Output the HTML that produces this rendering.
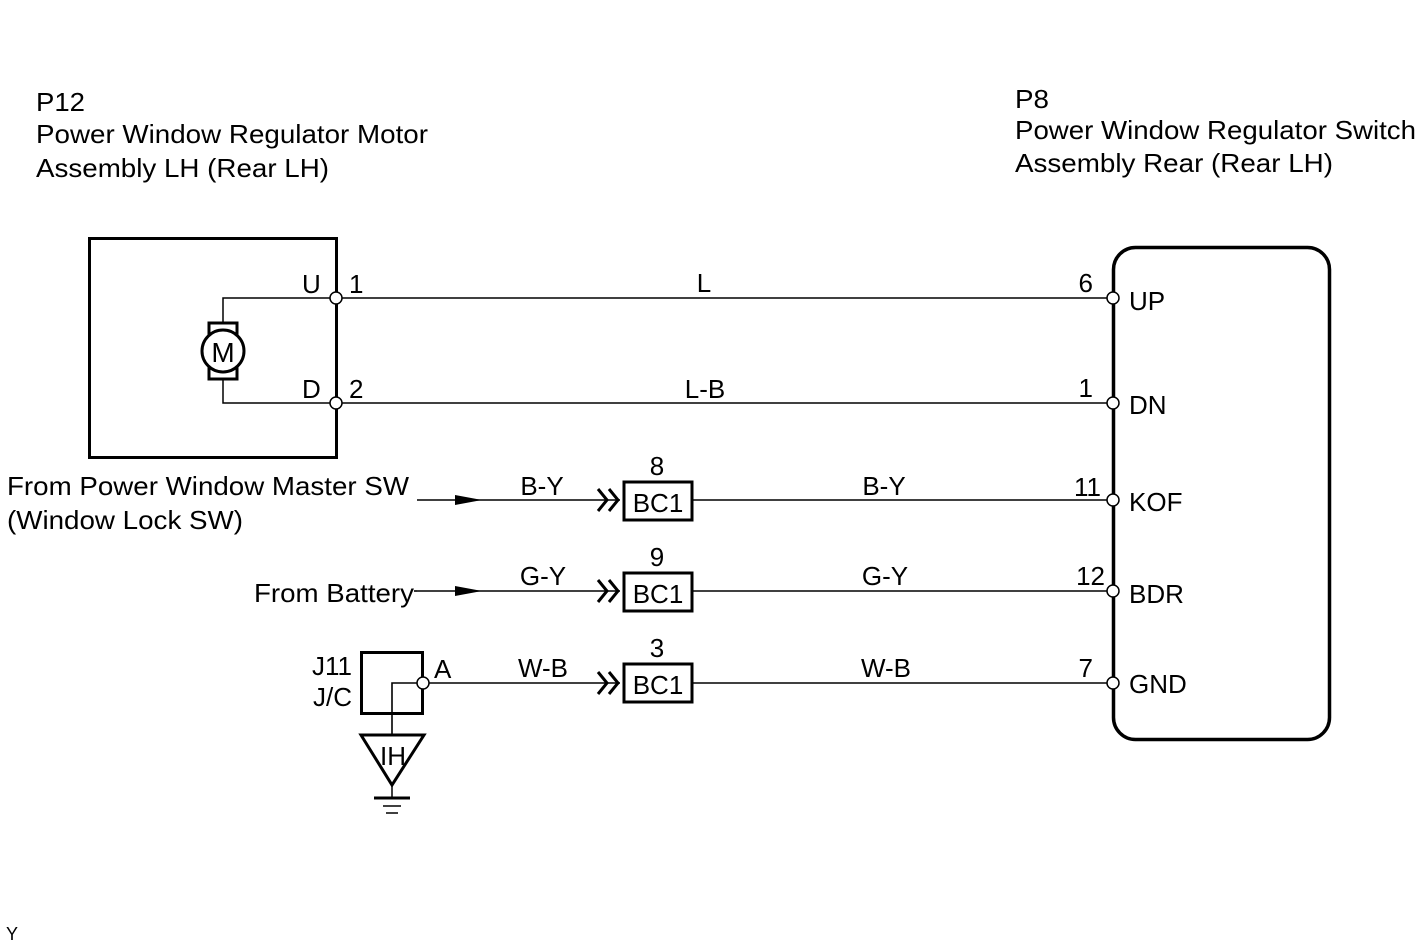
<!DOCTYPE html>
<html><head><meta charset="utf-8"><style>
html,body{margin:0;padding:0;background:#fff}
svg{display:block}
text{font-family:"Liberation Sans",Arial,sans-serif;fill:#000}
</style></head><body>
<svg width="1426" height="946" viewBox="0 0 1426 946" xmlns="http://www.w3.org/2000/svg">
<g font-size="26" lengthAdjust="spacingAndGlyphs">
<text x="36" y="111" textLength="49" lengthAdjust="spacingAndGlyphs">P12</text>
<text x="36" y="143" textLength="392" lengthAdjust="spacingAndGlyphs">Power Window Regulator Motor</text>
<text x="36" y="177" textLength="293" lengthAdjust="spacingAndGlyphs">Assembly LH (Rear LH)</text>
<text x="1015" y="108" textLength="34" lengthAdjust="spacingAndGlyphs">P8</text>
<text x="1015" y="139" textLength="401" lengthAdjust="spacingAndGlyphs">Power Window Regulator Switch</text>
<text x="1015" y="172" textLength="318" lengthAdjust="spacingAndGlyphs">Assembly Rear (Rear LH)</text>
</g>
<rect x="89.5" y="238.5" width="247" height="219" fill="none" stroke="#000" stroke-width="3"/>
<path d="M223 322 V298 H336 M223 380 V403 H336" fill="none" stroke="#000" stroke-width="1.5"/>
<rect x="209" y="323" width="28" height="56" fill="none" stroke="#000" stroke-width="3"/>
<circle cx="223" cy="351" r="21" fill="#fff" stroke="#000" stroke-width="3"/>
<text x="223" y="362" font-size="28" text-anchor="middle">M</text>
<rect x="1113.5" y="247.5" width="216" height="492" rx="22" fill="none" stroke="#000" stroke-width="3.5"/>
<g stroke="#000" stroke-width="1.6" fill="none">
<line x1="336" y1="298" x2="1113" y2="298"/>
<line x1="336" y1="403" x2="1113" y2="403"/>
<line x1="417" y1="500" x2="620" y2="500"/>
<line x1="692" y1="500" x2="1113" y2="500"/>
<line x1="417" y1="591" x2="620" y2="591"/>
<line x1="692" y1="591" x2="1113" y2="591"/>
<line x1="423" y1="683" x2="620" y2="683"/>
<line x1="692" y1="683" x2="1113" y2="683"/>
<path d="M423 683 H392 V735"/>
</g>
<polygon points="455,495 482,500 455,505" fill="#000"/>
<polygon points="455,586 482,591 455,596" fill="#000"/>
<g stroke="#000" stroke-width="3" fill="none">
<path d="M598 489 L607 500 L598 511 M609 489 L618 500 L609 511"/>
<path d="M598 580 L607 591 L598 602 M609 580 L618 591 L609 602"/>
<path d="M598 672 L607 683 L598 694 M609 672 L618 683 L609 694"/>
<rect x="624" y="482" width="68" height="38"/>
<rect x="624" y="573" width="68" height="38"/>
<rect x="624" y="664" width="68" height="38"/>
<rect x="361.5" y="652.5" width="61" height="61"/>
<polygon points="361,735 424,735 392,785"/>
</g>
<g stroke="#000" fill="none">
<line x1="392" y1="785" x2="392" y2="798" stroke-width="1.5"/>
<line x1="374" y1="798" x2="410" y2="798" stroke-width="3"/>
<line x1="383" y1="806" x2="401" y2="806" stroke-width="1.5"/>
<line x1="386" y1="813" x2="398" y2="813" stroke-width="1.5"/>
</g>
<g fill="#fff" stroke="#000" stroke-width="1.5">
<circle cx="336" cy="298" r="6"/><circle cx="336" cy="403" r="6"/>
<circle cx="1113" cy="298" r="6"/><circle cx="1113" cy="403" r="6"/>
<circle cx="1113" cy="500" r="6"/><circle cx="1113" cy="591" r="6"/>
<circle cx="1113" cy="683" r="6"/><circle cx="423" cy="683" r="6"/>
</g>
<g font-size="26">
<text x="302" y="293">U</text><text x="349" y="293">1</text>
<text x="302" y="398">D</text><text x="349" y="398">2</text>
<text x="704" y="292" text-anchor="middle">L</text>
<text x="705" y="398" text-anchor="middle">L-B</text>
<text x="1093" y="292" text-anchor="end">6</text>
<text x="1093" y="397" text-anchor="end">1</text>
<text x="1101" y="496" text-anchor="end">11</text>
<text x="1105" y="585" text-anchor="end">12</text>
<text x="1093" y="677" text-anchor="end">7</text>
<text x="1129" y="310">UP</text>
<text x="1129" y="414">DN</text>
<text x="1129" y="511">KOF</text>
<text x="1129" y="603">BDR</text>
<text x="1129" y="693">GND</text>
<text x="7" y="495" textLength="402" lengthAdjust="spacingAndGlyphs">From Power Window Master SW</text>
<text x="7" y="529" textLength="236" lengthAdjust="spacingAndGlyphs">(Window Lock SW)</text>
<text x="254" y="602" textLength="160" lengthAdjust="spacingAndGlyphs">From Battery</text>
<text x="542" y="495" text-anchor="middle">B-Y</text>
<text x="543" y="585" text-anchor="middle">G-Y</text>
<text x="543" y="677" text-anchor="middle">W-B</text>
<text x="884" y="495" text-anchor="middle">B-Y</text>
<text x="885" y="585" text-anchor="middle">G-Y</text>
<text x="886" y="677" text-anchor="middle">W-B</text>
<text x="657" y="475" text-anchor="middle">8</text>
<text x="657" y="566" text-anchor="middle">9</text>
<text x="657" y="657" text-anchor="middle">3</text>
<text x="658" y="512" text-anchor="middle">BC1</text>
<text x="658" y="603" text-anchor="middle">BC1</text>
<text x="658" y="694" text-anchor="middle">BC1</text>
<text x="434" y="678">A</text>
<text x="352" y="675" text-anchor="end">J11</text>
<text x="352" y="706" text-anchor="end">J/C</text>
<text x="393" y="765" text-anchor="middle">IH</text>
</g>
<path d="M414 591 H417" stroke="#000" stroke-width="1.6"/>
<text x="6" y="940" font-size="18">Y</text>
</svg>
</body></html>
